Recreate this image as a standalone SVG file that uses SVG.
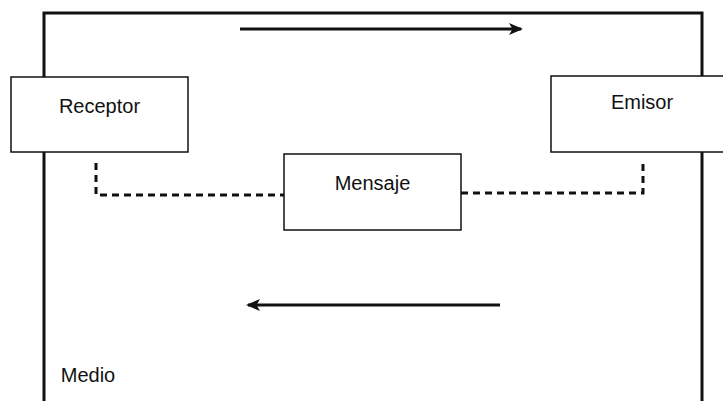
<svg xmlns="http://www.w3.org/2000/svg" width="723" height="401" viewBox="0 0 723 401">
  <style>
    .medium { fill: none; stroke: #111; stroke-width: 3; }
    .box { fill: #fff; stroke: #111; stroke-width: 1.5; }
    .label { font-family: "Liberation Sans", Arial, sans-serif; font-size: 20px; fill: #111; text-anchor: middle; }
    .link { fill: none; stroke: #111; stroke-width: 3; stroke-dasharray: 7 5; }
    .flow { fill: none; stroke: #111; stroke-width: 3; }
  </style>
  <defs>
    <marker id="head" viewBox="0 0 14 12" refX="12" refY="6" markerWidth="14" markerHeight="12" markerUnits="userSpaceOnUse" orient="auto">
      <path d="M0,0 L14,6 L0,12 L3.5,6 Z" fill="#111"/>
    </marker>
  </defs>

  <!-- transmission medium frame -->
  <g id="medio">
    <rect class="medium" x="44" y="13" width="658" height="400"/>
    <text class="label" x="88" y="382">Medio</text>
  </g>

  <!-- dotted links and flow arrows -->
  <g id="connectors">
    <polyline class="link" points="96,163 96,195 284,195"/>
    <polyline class="link" points="461,193 643,193 643,162"/>
    <line class="flow" x1="240" y1="29" x2="521" y2="29" marker-end="url(#head)"/>
    <line class="flow" x1="500" y1="305" x2="248" y2="305" marker-end="url(#head)"/>
  </g>

  <g id="receptor">
    <rect class="box" x="11" y="77" width="177" height="75"/>
    <text class="label" x="99.5" y="113">Receptor</text>
  </g>

  <g id="emisor">
    <rect class="box" x="551" y="76" width="180" height="76"/>
    <text class="label" x="642" y="109">Emisor</text>
  </g>

  <g id="mensaje">
    <rect class="box" x="284" y="154" width="177" height="76"/>
    <text class="label" x="372.5" y="190">Mensaje</text>
  </g>
</svg>
